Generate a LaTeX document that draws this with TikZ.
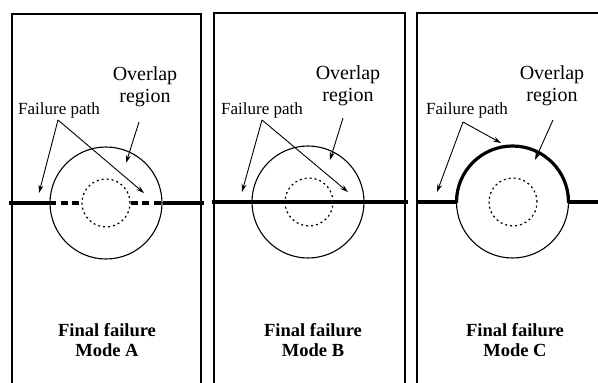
\documentclass[tikz,border=0pt]{standalone}
\usepackage{fontspec}
\setmainfont{Liberation Serif}
\usetikzlibrary{arrows.meta}

\begin{document}
\begin{tikzpicture}[x=1pt,y=-1pt,
  frame/.style={line width=1.6pt},
  crack/.style={line width=3.2pt},
  crackdash/.style={line width=3.2pt, dash pattern=on 7pt off 4.5pt},
  zone/.style={draw, circle, line width=1.1pt, minimum size=112pt, inner sep=0pt},
  core/.style={draw, circle, line width=1.2pt, dash pattern=on 2pt off 3pt, minimum size=48pt, inner sep=0pt},
  pointer/.style={line width=0.9pt, -{Stealth[length=8pt,width=5pt]}},
  labeltext/.style={font=\fontsize{17}{19}\selectfont, inner sep=0pt},
  regiontext/.style={font=\fontsize{20}{22}\selectfont, align=center, inner sep=0pt},
  modetext/.style={font=\fontsize{18.5}{20}\selectfont\bfseries, align=center, inner sep=0pt}]
\useasboundingbox (0,0) rectangle (598,383);
\clip (0,0) rectangle (598,383);

% ---------------- Mode A ----------------
\draw[frame] (12,390) -- (12,14) -- (201,14) -- (201,390);
\node[zone] (ovA) at (106,203) {};
\node[core] (coA) at (106,203) {};
\coordinate (lA) at (9,203);
\coordinate (rA) at (204,203);
\draw[crack] (lA) -- (ovA.west);
\draw[crack] (ovA.east) -- (rA);
\draw[crackdash] (ovA.west) -- (coA.west);
\draw[crackdash] (coA.east) -- (ovA.east);

\node[labeltext] (fpA) at (59,110) {Failure path};
\coordinate (fpAo) at (58,120);
\coordinate (fpAt1) at (39,193);
\coordinate (fpAt2) at (144,193);
\draw[pointer] (fpAo) -- (fpAt1);
\draw[pointer] (fpAo) -- (fpAt2);

\node[regiontext] (orA) at (145,87) {Overlap\\region};
\coordinate (orAo) at (139,122);
\coordinate (orAt) at (126,163);
\draw[pointer] (orAo) -- (orAt);

\node[modetext] (mA) at (107,340) {Final failure\\Mode A};

% ---------------- Mode B ----------------
\draw[frame] (214,390) -- (214,13) -- (405,13) -- (405,390);
\node[zone] (ovB) at (308,202) {};
\node[core] (coB) at (309,202) {};
\coordinate (lB) at (212,202);
\coordinate (rB) at (408,202);
\draw[crack] (lB) -- (rB);

\node[labeltext] (fpB) at (262,110) {Failure path};
\coordinate (fpBo) at (262,120);
\coordinate (fpBt1) at (242,192);
\coordinate (fpBt2) at (348,192);
\draw[pointer] (fpBo) -- (fpBt1);
\draw[pointer] (fpBo) -- (fpBt2);

\node[regiontext] (orB) at (348,86) {Overlap\\region};
\coordinate (orBo) at (343,118);
\coordinate (orBt) at (330,160);
\draw[pointer] (orBo) -- (orBt);

\node[modetext] (mB) at (313,340) {Final failure\\Mode B};

% ---------------- Mode C ----------------
\draw[frame] (417,390) -- (417,13) -- (610,13);
\node[zone] (ovC) at (512.5,202) {};
\node[core] (coC) at (513,202) {};
\coordinate (lC) at (417,202);
\coordinate (rC) at (605,202);
\draw[crack] (lC) -- (ovC.west);
\draw[crack] (ovC.east) -- (rC);
\begin{scope}
  \clip (450,202) rectangle (575,138);
  \draw[crack] (ovC.center) circle[radius=56pt];
\end{scope}

\node[labeltext] (fpC) at (467,110) {Failure path};
\coordinate (fpCo) at (463,122);
\coordinate (fpCt1) at (437,192);
\coordinate (fpCt2) at (501,143);
\draw[pointer] (fpCo) -- (fpCt1);
\draw[pointer] (fpCo) -- (fpCt2);

\node[regiontext] (orC) at (552,86) {Overlap\\region};
\coordinate (orCo) at (553,120);
\coordinate (orCt) at (535,160);
\draw[pointer] (orCo) -- (orCt);

\node[modetext] (mC) at (515,340) {Final failure\\Mode C};
\end{tikzpicture}
\end{document}
